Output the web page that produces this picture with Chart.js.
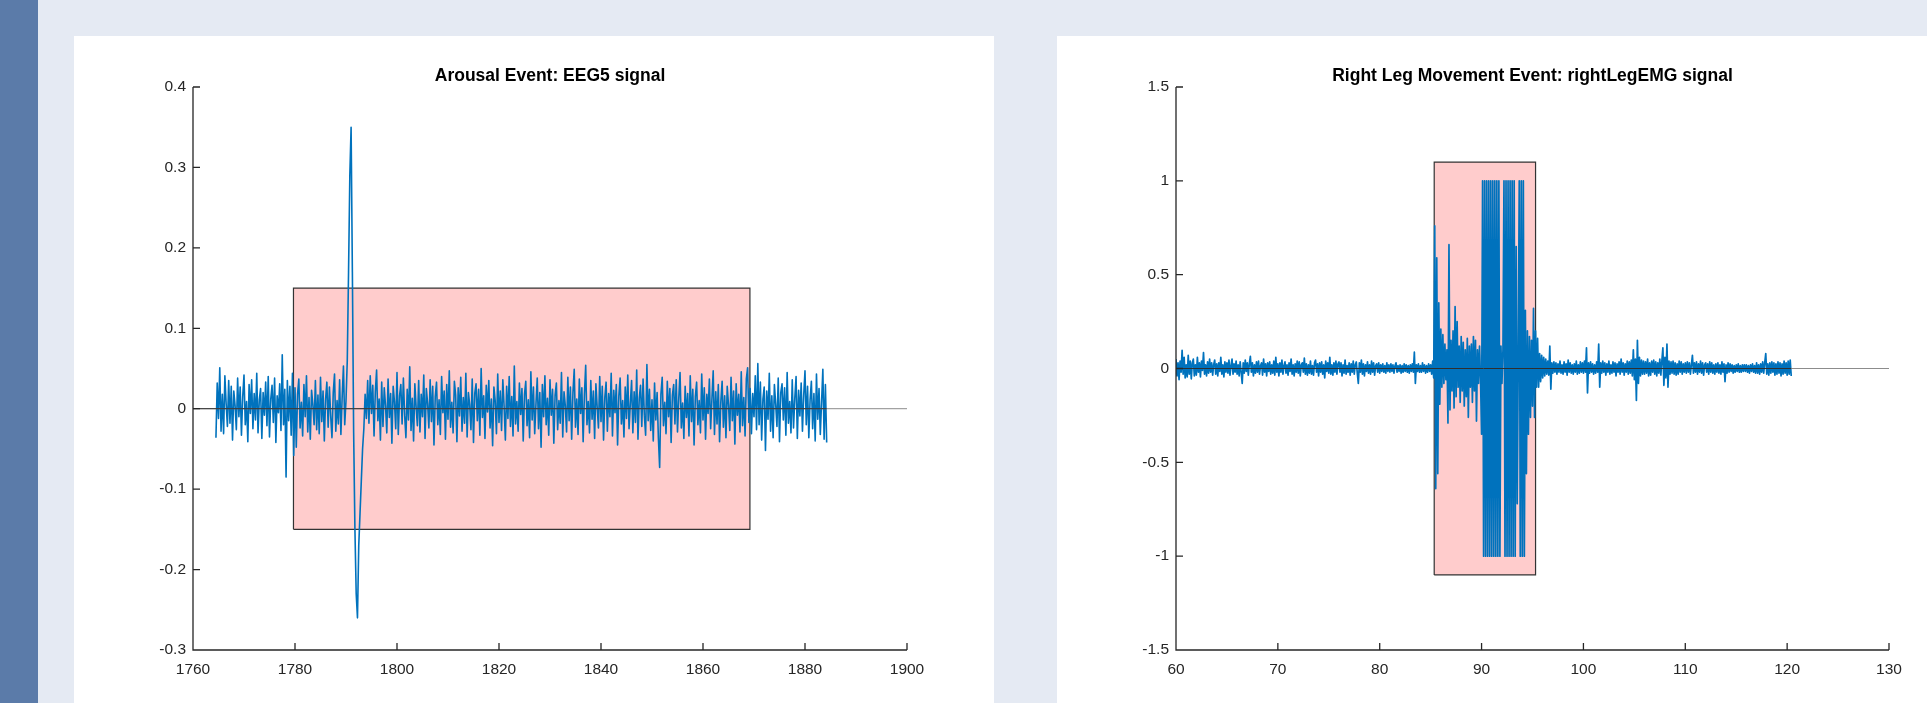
<!DOCTYPE html>
<html>
<head>
<meta charset="utf-8">
<title>Event signals</title>
<script src="https://cdn.jsdelivr.net/npm/chart.js@4/dist/chart.umd.min.js"></script>
<style>
  html, body { margin: 0; padding: 0; }
  body {
    width: 1927px;
    height: 703px;
    overflow: hidden;
    background: #e5eaf3;
    position: relative;
    font-family: "Liberation Sans", Arial, sans-serif;
  }
  .strip { position: absolute; left: 0; top: 0; width: 38px; height: 703px; background: #5b7ba9; }
  .panel { position: absolute; top: 36px; height: 667px; background: #ffffff; }
  #leftPanel { left: 74px; width: 920px; }
  #rightPanel { left: 1057px; width: 870px; }
  canvas { display: block; }
</style>
</head>
<body>
<div class="strip"></div>
<div class="panel" id="leftPanel"><canvas id="eegChart" width="920" height="667"></canvas></div>
<div class="panel" id="rightPanel"><canvas id="emgChart" width="870" height="667"></canvas></div>

<script>
// ---- Arousal event, EEG5 (sampled every 0.25 s from 1764.5 s) ----
const eegStart = 1764.5;
const eegStep = 0.25;
const eegValues = [
  -0.036, 0.032, -0.012, 0.051, -0.028, 0.018, -0.031, 0.041, 0.006, -0.022, 0.035, -0.018, 0.028, -0.039, 0.022, 0.004, -0.026, 0.038, -0.01, 0.027,
  -0.033, 0.015, 0.042, -0.02, 0.009, -0.041, 0.03, -0.006, 0.036, -0.025, 0.019, -0.014, 0.044, -0.03, 0.011, 0.025, -0.037, 0.02, -0.008, 0.033,
  -0.021, 0.04, -0.035, 0.012, 0.029, -0.017, 0.038, -0.042, 0.016, -0.005, 0.031, -0.027, 0.067, -0.02, 0.024, -0.085, 0.035, -0.015, 0.028, -0.033,
  0.044, -0.058, 0.026, -0.048, 0.018, 0.037, -0.024, 0.008, -0.034, 0.03, -0.01, 0.041, -0.029, 0.014, -0.038, 0.023, 0.005, -0.02, 0.035, -0.026,
  0.017, -0.031, 0.039, -0.016, 0.022, -0.04, 0.012, 0.033, -0.023, 0.027, -0.009, -0.036, 0.02, 0.043, -0.028, 0.01, -0.019, 0.036, -0.032, 0.015,
  0.053, -0.02, 0.01, 0.06, 0.17, 0.29, 0.35, 0.17, -0.03, -0.15, -0.23, -0.26, -0.17, -0.13, -0.09, -0.05, -0.025, 0.018, -0.012, 0.035,
  -0.018, 0.041, -0.006, 0.029, -0.034, 0.021, 0.048, -0.015, 0.012, -0.039, 0.033, -0.022, 0.026, 0.004, -0.03, 0.037, -0.011, 0.019, -0.043, 0.028,
  0.009, -0.025, 0.045, -0.032, 0.016, 0.03, -0.019, 0.038, -0.008, -0.036, 0.024, -0.014, 0.052, -0.027, 0.013, -0.04, 0.031, 0.002, -0.021, 0.035,
  -0.029, 0.018, -0.01, 0.042, -0.037, 0.025, 0.007, -0.024, 0.036, -0.016, 0.028, -0.045, 0.015, 0.033, -0.02, 0.011, -0.032, 0.04, -0.005, 0.022,
  -0.038, 0.03, -0.013, 0.047, -0.023, 0.008, -0.03, 0.034, 0.017, -0.041, 0.026, -0.009, 0.039, -0.028, 0.014, -0.018, 0.044, -0.035, 0.02, 0.005,
  -0.026, 0.037, -0.042, 0.019, 0.031, -0.015, 0.024, -0.033, 0.05, -0.011, 0.016, -0.037, 0.029, -0.004, 0.035, -0.024, 0.012, -0.046, 0.027, 0.01,
  -0.031, 0.043, -0.017, 0.022, -0.027, 0.036, 0.003, -0.039, 0.028, -0.012, 0.04, -0.022, 0.015, -0.034, 0.053, -0.019, 0.009, -0.028, 0.032, -0.007,
  0.025, -0.04, 0.018, 0.034, -0.021, 0.011, -0.036, 0.046, -0.014, 0.027, -0.031, 0.006, 0.038, -0.025, 0.02, -0.048, 0.03, -0.01, 0.041, -0.02,
  0.013, -0.033, 0.036, -0.008, 0.024, -0.043, 0.017, 0.032, -0.026, 0.01, -0.018, 0.045, -0.035, 0.021, 0.004, -0.029, 0.039, -0.015, 0.027, -0.038,
  0.02, 0.049, -0.023, 0.012, -0.032, 0.037, -0.006, 0.026, -0.041, 0.018, 0.054, -0.02, 0.009, -0.03, 0.035, -0.013, 0.022, -0.037, 0.031, 0.002,
  -0.024, 0.04, -0.016, 0.028, -0.039, 0.014, 0.033, -0.028, 0.019, -0.01, 0.044, -0.034, 0.023, -0.005, 0.03, -0.045, 0.016, 0.038, -0.019, 0.01,
  -0.035, 0.027, -0.012, 0.042, -0.025, 0.006, 0.035, -0.03, 0.021, -0.017, 0.048, -0.038, 0.013, 0.029, -0.022, 0.037, -0.008, -0.033, 0.055, -0.015,
  0.024, -0.027, 0.011, -0.04, 0.032, -0.014, 0.02, -0.036, -0.073, 0.018, 0.039, -0.021, 0.008, -0.031, 0.034, -0.01, 0.025, -0.042, 0.017, 0.03,
  -0.019, 0.036, -0.029, 0.013, 0.045, -0.024, 0.007, -0.037, 0.028, -0.011, 0.019, -0.034, 0.041, -0.016, 0.024, -0.045, 0.015, 0.033, -0.02, 0.01,
  -0.03, 0.043, -0.014, 0.026, -0.038, 0.018, -0.006, 0.037, -0.025, 0.012, 0.047, -0.032, 0.021, -0.019, 0.03, -0.041, 0.009, 0.034, -0.023, 0.016,
  -0.036, 0.028, 0.005, -0.027, 0.039, -0.015, 0.022, -0.044, 0.031, -0.008, 0.018, -0.029, 0.046, -0.021, 0.014, -0.034, 0.037, 0.051, -0.017, 0.025,
  -0.031, 0.019, -0.01, 0.041, -0.026, 0.056, -0.02, 0.033, -0.039, 0.012, 0.027, -0.052, 0.022, -0.013, 0.044, -0.028, 0.016, -0.036, 0.03, 0.006,
  -0.022, 0.038, -0.041, 0.02, 0.031, -0.014, 0.026, -0.033, 0.045, -0.018, 0.009, -0.03, 0.036, -0.024, 0.013, 0.04, -0.037, 0.023, -0.009, 0.032,
  -0.028, 0.017, 0.047, -0.02, 0.028, -0.036, 0.011, 0.034, -0.025, 0.019, -0.04, 0.043, -0.013, 0.025, -0.032, 0.008, 0.049, -0.038, 0.03, -0.042
];
const eegXTicks = [1760, 1780, 1800, 1820, 1840, 1860, 1880, 1900];
const eegYTicks = [-0.3, -0.2, -0.1, 0, 0.1, 0.2, 0.3, 0.4];
const eegEvent = [1779.7, 1869.2];
const eegEventBand = [-0.15, 0.15];

// ---- Right leg movement event, rightLegEMG (sampled every 0.1 s from 60 s) ----
const emgStart = 60;
const emgStep = 0.1;
const emgValues = [
  0.05, -0.04, 0.03, -0.06, 0.04, -0.02, 0.097, -0.03, 0.06, -0.05,
  0.02, -0.045, 0.07, -0.03, 0.04, -0.055, 0.03, 0.05, -0.04, 0.02,
  -0.035, 0.06, -0.02, 0.03, -0.045, 0.04, -0.01, 0.085, -0.03, 0.02,
  -0.04, 0.035, -0.025, 0.05, -0.02, 0.03, -0.035, 0.02, 0.045, -0.03,
  0.025, -0.04, 0.03, -0.015, 0.06, -0.03, 0.02, -0.045, 0.035, -0.02,
  0.03, -0.025, 0.045, -0.035, 0.015, 0.05, -0.03, 0.025, -0.02, 0.04,
  -0.03, 0.02, -0.04, 0.035, -0.02, -0.08, 0.03, -0.025, 0.045, -0.015,
  0.03, -0.035, 0.025, 0.065, -0.02, 0.03, -0.04, 0.02, -0.025, 0.035,
  -0.02, 0.04, -0.03, 0.015, 0.03, -0.035, 0.05, -0.02, 0.025, -0.04,
  0.03, -0.015, 0.035, -0.03, 0.02, -0.025, 0.04, -0.035, 0.06, -0.02,
  0.025, -0.04, 0.03, -0.02, 0.045, -0.03, 0.015, 0.035, -0.025, 0.02,
  -0.035, 0.03, -0.015, 0.05, -0.03, 0.02, -0.04, 0.025, -0.02, 0.04,
  -0.025, 0.035, -0.04, 0.02, 0.03, -0.02, 0.055, -0.03, 0.025, -0.035,
  0.02, -0.025, 0.04, -0.03, 0.015, -0.035, 0.03, 0.045, -0.02, 0.025,
  -0.04, 0.03, -0.02, 0.035, -0.03, 0.02, -0.05, 0.04, -0.015, 0.03,
  -0.025, 0.06, -0.03, 0.02, -0.035, 0.03, -0.02, 0.04, -0.03, 0.025,
  0.035, -0.02, 0.03, -0.04, 0.02, -0.025, 0.045, -0.03, 0.015, -0.02,
  0.03, -0.035, 0.025, -0.02, 0.04, -0.03, 0.02, 0.035, -0.025, -0.08,
  0.03, -0.02, 0.045, -0.03, 0.025, -0.04, 0.02, -0.015, 0.035, -0.025,
  0.02, -0.03, 0.04, -0.02, 0.03, -0.035, 0.015, 0.025, -0.02, 0.03,
  -0.025, 0.02, -0.015, 0.025, -0.02, 0.015, -0.025, 0.03, -0.015, 0.02,
  -0.02, 0.025, -0.015, 0.02, -0.025, 0.015, 0.03, -0.02, 0.015, -0.015,
  0.02, -0.025, 0.015, -0.02, 0.025, -0.015, 0.02, -0.02, 0.015, -0.025,
  0.02, -0.015, 0.025, -0.02, 0.087, -0.08, 0.02, -0.015, 0.025, -0.02,
  0.015, -0.02, 0.03, -0.015, 0.02, -0.025, 0.015, -0.02, 0.025, -0.015,
  0.02, -0.03, 0.04, -0.05, 0.76, -0.64, 0.59, -0.56, 0.35, -0.19,
  0.21, -0.1, 0.18, -0.08, 0.13, -0.06, 0.1, -0.29, 0.66, -0.22,
  0.15, -0.12, 0.2, -0.21, 0.33, -0.15, 0.25, -0.1, 0.12, -0.18,
  0.17, -0.12, 0.14, -0.2, 0.1, -0.15, 0.16, -0.26, 0.12, -0.1,
  0.13, -0.18, 0.17, -0.12, 0.15, -0.28, 0.1, -0.08, 0.12, -0.06,
  -0.35, 1, -1, 1, -1, 1, -1, 1, -1, 1,
  -1, 1, -1, 1, -1, 1, -1, 1, -1, 0.12,
  -0.08, 0.1, 1, -1, 1, -1, 1, -1, 1, -1,
  1, -1, 1, -1, 0.65, -0.72, 0.05, 1, -1, 1,
  -1, 1, -1, 0.31, -0.56, 0.2, -0.35, 0.17, -0.26, 0.15,
  -0.2, 0.32, -0.26, 0.2, -0.1, 0.16, -0.1, 0.08, -0.07, 0.07,
  -0.05, 0.06, -0.04, 0.05, -0.03, 0.04, -0.035, 0.12, -0.11, 0.03,
  -0.025, 0.035, -0.02, 0.03, -0.03, 0.025, -0.02, 0.04, -0.025, 0.02,
  -0.03, 0.035, -0.02, 0.025, -0.035, 0.045, -0.02, 0.03, -0.025, 0.02,
  -0.03, 0.025, -0.02, 0.04, -0.03, 0.02, -0.025, 0.035, -0.02, 0.03,
  -0.025, 0.04, -0.02, 0.11, -0.13, 0.03, -0.025, 0.035, -0.02, 0.025,
  -0.03, 0.02, -0.025, 0.035, -0.02, 0.13, -0.1, 0.03, -0.025, 0.04,
  -0.02, 0.03, -0.035, 0.025, -0.02, 0.04, -0.03, 0.02, -0.025, 0.035,
  -0.02, 0.03, -0.04, 0.025, -0.02, 0.035, -0.03, 0.05, -0.02, 0.03,
  -0.035, 0.025, -0.02, 0.04, -0.03, 0.035, -0.025, 0.045, -0.04, 0.1,
  -0.06, 0.05, -0.17, 0.15, -0.08, 0.06, -0.04, 0.045, -0.03, 0.04,
  -0.03, 0.035, -0.025, 0.05, -0.04, 0.03, -0.035, 0.04, -0.02, 0.045,
  -0.03, 0.035, -0.04, 0.03, -0.025, 0.05, -0.035, 0.04, 0.11, -0.09,
  0.06, -0.05, 0.13, -0.1, 0.04, -0.03, 0.035, -0.025, 0.04, -0.03,
  0.03, -0.035, 0.025, -0.03, 0.04, -0.02, 0.035, -0.03, 0.025, -0.02,
  0.03, -0.025, 0.035, -0.02, 0.03, -0.03, 0.02, 0.07, -0.025, 0.03,
  -0.02, 0.035, -0.03, 0.025, -0.02, 0.04, -0.025, 0.03, -0.035, 0.02,
  0.03, -0.02, 0.025, -0.03, 0.035, -0.02, 0.03, -0.025, 0.02, -0.03,
  0.025, -0.02, 0.03, -0.025, 0.02, -0.03, 0.035, -0.02, 0.025, -0.07,
  0.02, -0.025, 0.03, -0.02, 0.025, -0.015, 0.02, -0.025, 0.015, -0.02,
  0.02, -0.015, 0.025, -0.02, 0.015, -0.02, 0.02, -0.015, 0.02, -0.015,
  0.02, -0.02, 0.015, -0.025, 0.02, -0.015, 0.025, -0.02, 0.015, -0.025,
  0.03, -0.025, 0.02, -0.03, 0.025, -0.02, 0.035, -0.025, 0.03, 0.08,
  -0.03, 0.025, -0.035, 0.03, -0.025, 0.035, -0.02, 0.03, -0.035, 0.025,
  -0.03, 0.035, -0.025, 0.03, -0.04, 0.025, -0.03, 0.04, -0.025, 0.03,
  -0.035, 0.04, -0.03, 0.045, -0.04
];
const emgXTicks = [60, 70, 80, 90, 100, 110, 120, 130];
const emgYTicks = [-1.5, -1, -0.5, 0, 0.5, 1, 1.5];
const emgEvent = [85.35, 95.3];
const emgEventBand = [-1.1, 1.1];

const SIGNAL_COLOR = "#0072bd";
const AXIS_COLOR = "#262626";
const EVENT_FILL = "#ffcccc";
const FONT_FAMILY = '"Liberation Sans", Arial, Helvetica, sans-serif';

function toPoints(start, step, values) {
  return values.map((v, i) => ({ x: start + i * step, y: v }));
}

function boxPoints(event, band) {
  return [
    { x: event[0], y: band[0] },
    { x: event[0], y: band[1] },
    { x: event[1], y: band[1] },
    { x: event[1], y: band[0] },
    { x: event[0], y: band[0] }
  ];
}

// axis lines with inward ticks and a bold title, drawn from the chart's scales
const matlabAxes = {
  id: "matlabAxes",
  afterDraw(chart, args, opts) {
    const { ctx, chartArea: a, scales: { x, y } } = chart;
    ctx.save();
    ctx.strokeStyle = AXIS_COLOR;
    ctx.lineWidth = 1.3;
    ctx.beginPath();
    ctx.moveTo(a.left, a.top);
    ctx.lineTo(a.left, a.bottom);
    ctx.lineTo(a.right, a.bottom);
    x.ticks.forEach(t => {
      const px = x.getPixelForValue(t.value);
      ctx.moveTo(px, a.bottom);
      ctx.lineTo(px, a.bottom - 7);
    });
    y.ticks.forEach(t => {
      const py = y.getPixelForValue(t.value);
      ctx.moveTo(a.left, py);
      ctx.lineTo(a.left + 7, py);
    });
    ctx.stroke();

    ctx.fillStyle = "#000";
    ctx.font = "bold 17.5px " + FONT_FAMILY;
    ctx.textAlign = "center";
    ctx.textBaseline = "alphabetic";
    ctx.fillText(opts.text, (a.left + a.right) / 2, a.top - 6);
    ctx.restore();
  }
};

function makeChart(canvasId, cfg) {
  const ctx = document.getElementById(canvasId).getContext("2d");
  const signal = toPoints(cfg.start, cfg.step, cfg.values);
  const signalEnd = signal[signal.length - 1].x;

  return new Chart(ctx, {
    type: "scatter",
    data: {
      datasets: [
        {
          label: "event",
          data: boxPoints(cfg.event, cfg.band),
          showLine: true,
          fill: "shape",
          backgroundColor: EVENT_FILL,
          borderColor: "#333333",
          borderWidth: 1.2,
          pointRadius: 0,
          order: 3
        },
        {
          label: "signal",
          data: signal,
          showLine: true,
          borderColor: SIGNAL_COLOR,
          borderWidth: cfg.lineWidth,
          borderJoinStyle: "round",
          pointRadius: 0,
          tension: 0,
          order: 2
        },
        {
          label: "zero",
          data: [{ x: cfg.xTicks[0], y: 0 }, { x: cfg.xTicks[cfg.xTicks.length - 1], y: 0 }],
          showLine: true,
          borderColor: "#8c8c8c",
          borderWidth: 1,
          pointRadius: 0,
          order: 1
        },
        {
          label: "zeroSignal",
          data: [{ x: cfg.xTicks[0], y: 0 }, { x: signalEnd, y: 0 }],
          showLine: true,
          borderColor: "rgba(30,30,30,0.85)",
          borderWidth: 1,
          pointRadius: 0,
          order: 0
        }
      ]
    },
    options: {
      responsive: false,
      animation: false,
      events: [],
      layout: { padding: { left: 0, top: 51, right: cfg.rightPad, bottom: 0 } },
      plugins: {
        legend: { display: false },
        tooltip: { enabled: false },
        matlabAxes: { text: cfg.title }
      },
      scales: {
        x: {
          type: "linear",
          min: cfg.xTicks[0],
          max: cfg.xTicks[cfg.xTicks.length - 1],
          grid: { display: false, drawTicks: false },
          border: { display: false },
          afterBuildTicks: s => { s.ticks = cfg.xTicks.map(v => ({ value: v })); },
          afterFit: s => { s.height = 53; },
          ticks: {
            autoSkip: false,
            maxRotation: 0,
            padding: 10,
            color: AXIS_COLOR,
            font: { family: FONT_FAMILY, size: 15.5 },
            callback: v => String(v)
          }
        },
        y: {
          type: "linear",
          min: cfg.yTicks[0],
          max: cfg.yTicks[cfg.yTicks.length - 1],
          grid: { display: false, drawTicks: false },
          border: { display: false },
          afterBuildTicks: s => { s.ticks = cfg.yTicks.map(v => ({ value: v })); },
          afterFit: s => { s.width = 119; },
          ticks: {
            autoSkip: false,
            padding: 7,
            color: AXIS_COLOR,
            font: { family: FONT_FAMILY, size: 15.5 },
            callback: v => String(v)
          }
        }
      }
    },
    plugins: [matlabAxes]
  });
}

document.addEventListener("DOMContentLoaded", () => {
  makeChart("eegChart", {
    title: "Arousal Event: EEG5 signal",
    start: eegStart, step: eegStep, values: eegValues,
    xTicks: eegXTicks, yTicks: eegYTicks,
    event: eegEvent, band: eegEventBand,
    lineWidth: 1.6,
    rightPad: 87
  });
  makeChart("emgChart", {
    title: "Right Leg Movement Event: rightLegEMG signal",
    start: emgStart, step: emgStep, values: emgValues,
    xTicks: emgXTicks, yTicks: emgYTicks,
    event: emgEvent, band: emgEventBand,
    lineWidth: 1.7,
    rightPad: 38
  });
});
</script>
</body>
</html>
